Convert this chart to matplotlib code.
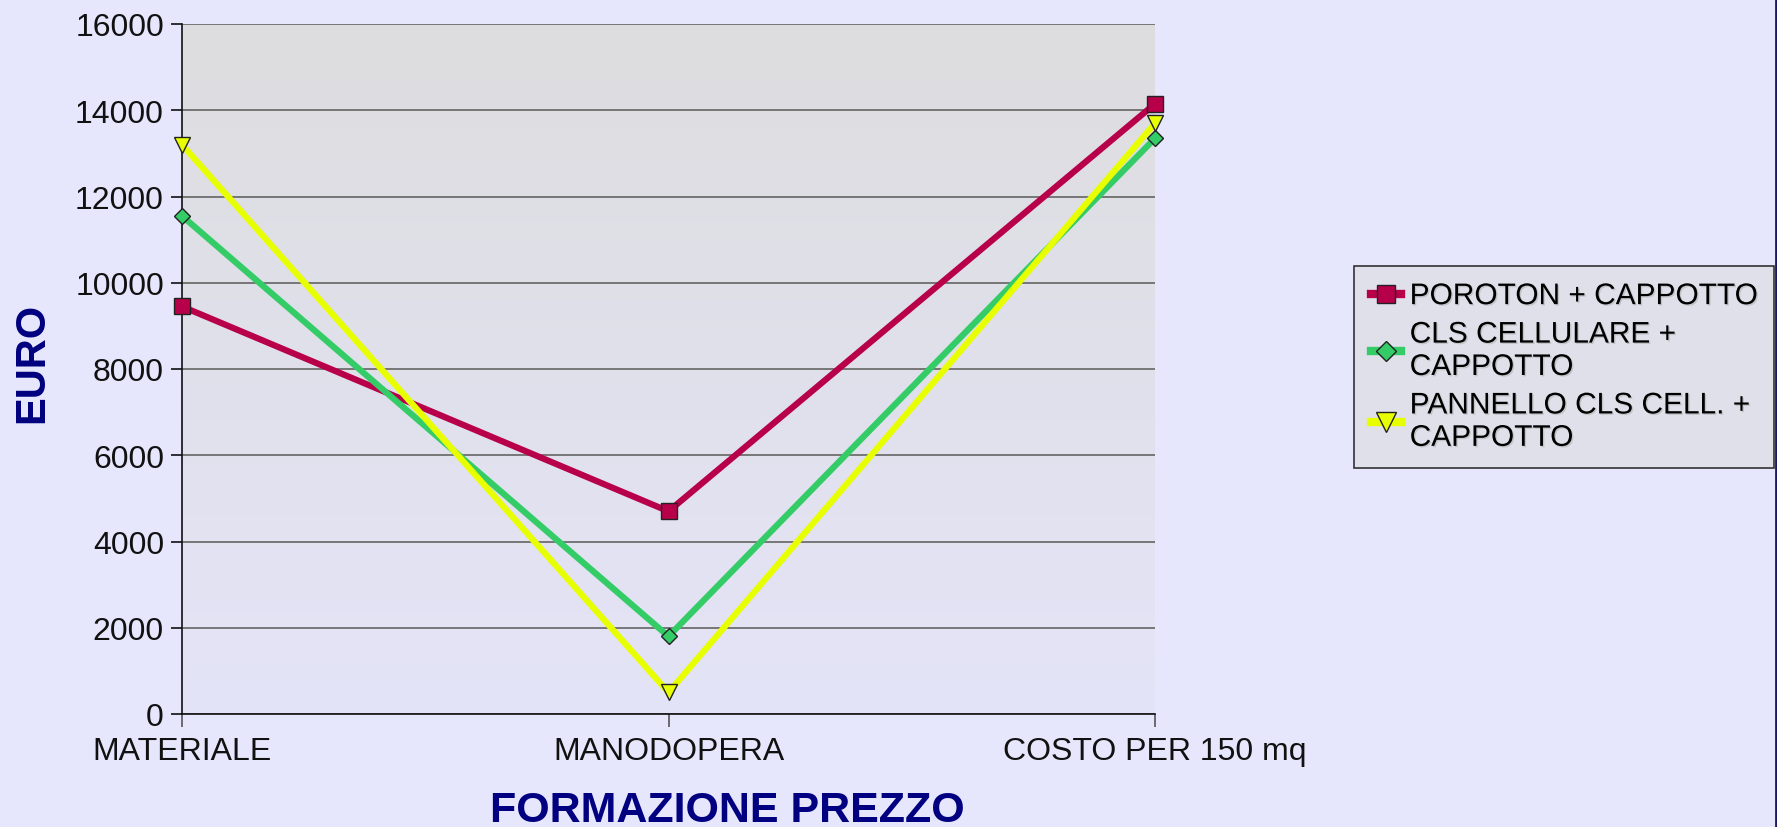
import numpy as np
import matplotlib
matplotlib.use('Agg')
import matplotlib.pyplot as plt
from matplotlib.lines import Line2D
import matplotlib.patheffects as pe

plt.rcParams['font.family'] = ['Liberation Sans', 'DejaVu Sans']

# Chart data
categories = ['MATERIALE', 'MANODOPERA', 'COSTO PER 150 mq']
poroton = [9450, 4700, 14150]
cls_cellulare = [11550, 1800, 13350]
pannello = [13200, 500, 13700]
series_labels = ['POROTON + CAPPOTTO',
                 'CLS CELLULARE +\nCAPPOTTO',
                 'PANNELLO CLS CELL. +\nCAPPOTTO']
y_ticks = [0, 2000, 4000, 6000, 8000, 10000, 12000, 14000, 16000]

W, H = 1777, 828
fig = plt.figure(figsize=(W / 100, H / 100), dpi=100)
fig.patch.set_facecolor('#E6E6FC')

ax = fig.add_axes([182 / W, 1 - 715 / H, (1155 - 182) / W, (715 - 25) / H])

# Gradient plot background: gray at top to lavender at bottom
top = np.array([221, 221, 223]) / 255
bot = np.array([228, 228, 248]) / 255
t = np.linspace(0, 1, 256)[:, None]
grad = (top * (1 - t) + bot * t)[:, None, :].repeat(2, axis=1)
ax.imshow(grad, extent=[0, 1, 0, 1], transform=ax.transAxes,
          aspect='auto', zorder=0, interpolation='bilinear')

x = np.arange(len(categories))

ax.plot(x, poroton, color='#B8004A', lw=4.5, marker='s', markersize=11,
        markerfacecolor='#B8004A', markeredgecolor='#222222', markeredgewidth=1,
        clip_on=False, zorder=3, label=series_labels[0])
ax.plot(x, cls_cellulare, color='#33CC66', lw=4.5, marker='D', markersize=8.5,
        markerfacecolor='#33CC66', markeredgecolor='#222222', markeredgewidth=1,
        clip_on=False, zorder=3, label=series_labels[1])
ax.plot(x, pannello, color='#E8FF00', lw=4.5, marker='v', markersize=11.5,
        markerfacecolor='#E8FF00', markeredgecolor='#222222', markeredgewidth=1,
        clip_on=False, zorder=3, label=series_labels[2])

ax.set_xlim(0, 2)
ax.set_ylim(0, 16000)
ax.set_yticks(y_ticks)
ax.set_yticklabels([str(v) for v in y_ticks])
ax.set_xticks(x)
ax.set_xticklabels(categories)

ax.yaxis.grid(True, color='#6E6E6E', lw=1.3, zorder=1)
ax.set_axisbelow(True)
for s in ['top', 'right']:
    ax.spines[s].set_visible(False)
for s in ['left', 'bottom']:
    ax.spines[s].set_color('#111111')
    ax.spines[s].set_linewidth(1.2)

ax.tick_params(axis='y', length=8, width=1.2, pad=5, labelsize=23, colors='#111111')
ax.tick_params(axis='x', length=9, width=1.2, pad=7, labelsize=23,
               colors='#555555', labelcolor='#111111')

# Axis titles
fig.text(32 / W, 1 - 363 / H, 'EURO', rotation=90, ha='center', va='center',
         fontsize=30, fontweight='bold', color='#000080')
fig.text(727 / W, 1 - 811 / H, 'FORMAZIONE PREZZO', ha='center', va='center',
         fontsize=31, fontweight='bold', color='#000080')

# Legend
leg = fig.legend(loc='center', bbox_to_anchor=(1564 / W, 1 - 368 / H),
                 fontsize=21.5, frameon=True, fancybox=False, markerscale=1.2,
                 handlelength=1.0, handletextpad=0.3, labelspacing=0.35,
                 borderpad=0.55, borderaxespad=0)
frame = leg.get_frame()
frame.set_facecolor('#E0E0EA')
frame.set_edgecolor('#333333')
frame.set_linewidth(1.2)
frame.set_alpha(1)
for txt in leg.get_texts():
    txt.set_path_effects([pe.withSimplePatchShadow(offset=(1, -1),
                                                   shadow_rgbFace='#999999', alpha=0.4)])
for h in leg.legend_handles:
    h.set_linewidth(6)

# Dark edge on the right side of the picture
fig.add_artist(Line2D([1 - 1 / W, 1 - 1 / W], [0, 1], transform=fig.transFigure,
                      color='#1A1A60', lw=2))

fig.savefig('out.png', dpi=100, facecolor=fig.get_facecolor())
